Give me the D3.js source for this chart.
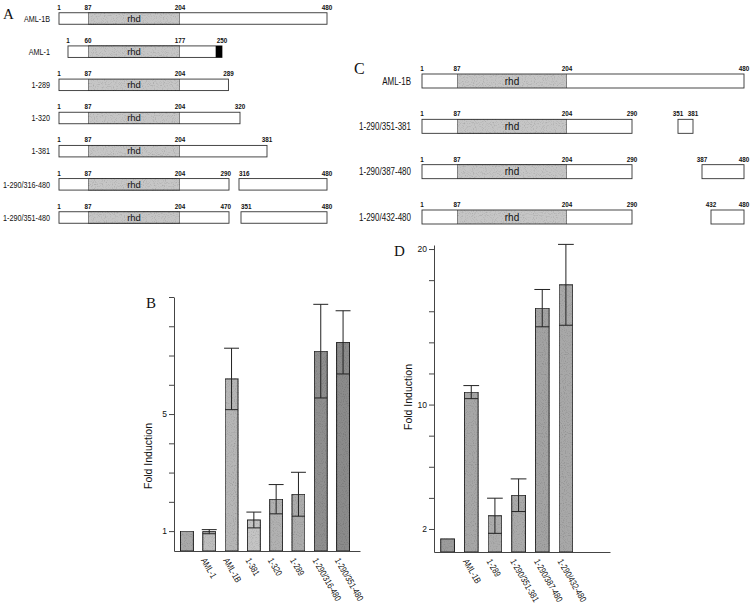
<!DOCTYPE html>
<html>
<head>
<meta charset="utf-8">
<script src="https://cdn.jsdelivr.net/npm/d3@7"></script>
<style>
  body { margin: 0; background: #fff; }
  text { font-family: "Liberation Sans", Arial, sans-serif; fill: #111; }
  .panel-letter { font-family: "Liberation Serif", "Times New Roman", serif; }
</style>
</head>
<body>
<svg id="fig" width="754" height="609"></svg>
<script>
// ---- panel A: constructs ----
const aRows = ["AML-1B", "AML-1", "1-289", "1-320", "1-381", "1-290/316-480", "1-290/351-480"];
const aSegments = [[[1, 480]], [[1, 250]], [[1, 289]], [[1, 320]], [[1, 381]], [[1, 290], [316, 480]], [[1, 290], [351, 480]]];
const aRhd = [[87, 204], [60, 177], [87, 204], [87, 204], [87, 204], [87, 204], [87, 204]];
const aTail = [null, [239, 250], null, null, null, null, null];
const aPos = [[1, 87, 204, 480], [1, 60, 177, 250], [1, 87, 204, 289], [1, 87, 204, 320], [1, 87, 204, 381], [1, 87, 204, 290, 316, 480], [1, 87, 204, 290, 351, 480]];
const aPosText = [["1", "87", "204", "480"], ["1", "60", "177", "250"], ["1", "87", "204", "289"], ["1", "87", "204", "320"], ["1", "87", "204", "381"], ["1", "87", "204", "290", "316", "480"], ["1", "87", "204", "470", "351", "480"]];

// ---- panel C: constructs ----
const cRows = ["AML-1B", "1-290/351-381", "1-290/387-480", "1-290/432-480"];
const cSegments = [[[1, 480]], [[1, 290], [351, 381]], [[1, 290], [387, 480]], [[1, 290], [432, 480]]];
const cRhd = [[87, 204], [87, 204], [87, 204], [87, 204]];
const cPos = [[1, 87, 204, 480], [1, 87, 204, 290, 351, 381], [1, 87, 204, 290, 387, 480], [1, 87, 204, 290, 432, 480]];

// ---- panel B: fold induction ----
const bCats = ["vector", "AML-1", "AML-1B", "1-381", "1-320", "1-289", "1-290/316-480", "1-290/351-480"];
const bLabels = ["", "AML-1", "AML-1B", "1-381", "1-320", "1-289", "1-290/316-480", "1-290/351-480"];
const bMeans = [1.0, 0.98, 6.2, 1.38, 2.09, 2.26, 7.15, 7.45];
const bErrs = [0, 0.07, 1.05, 0.27, 0.5, 0.75, 1.6, 1.08];
const bTicks = [1, 2, 3, 4, 5, 6, 7, 8, 9];
const bTickLabels = [1, 5];

// ---- panel D: fold induction ----
const dCats = ["vector", "AML-1B", "1-289", "1-290/351-381", "1-290/387-480", "1-290/432-480"];
const dLabels = ["", "AML-1B", "1-289", "1-290/351-381", "1-290/387-480", "1-290/432-480"];
const dMeans = [1.36, 10.8, 2.85, 4.17, 16.2, 17.7];
const dErrs = [0, 0.42, 1.13, 1.05, 1.2, 2.6];
const dTicks = [2, 4, 6, 8, 10, 12, 14, 16, 18, 20];
const dTickLabels = [2, 10, 20];

const svg = d3.select("#fig");
svg.append("rect").attr("width", 754).attr("height", 609).attr("fill", "#fff");

// speckled grey like the scanned halftone
const defs = svg.append("defs");
const grain = defs.append("filter").attr("id", "grain").attr("x", 0).attr("y", 0).attr("width", 1).attr("height", 1);
grain.append("feTurbulence").attr("type", "fractalNoise").attr("baseFrequency", 0.9).attr("numOctaves", 1).attr("seed", 3).attr("result", "noise");
grain.append("feColorMatrix").attr("in", "noise").attr("type", "matrix")
    .attr("values", "0 0 0 0 0  0 0 0 0 0  0 0 0 0 0  0 0 0 -0.9 0.45").attr("result", "dots");
grain.append("feComposite").attr("in", "dots").attr("in2", "SourceGraphic").attr("operator", "in").attr("result", "dotsIn");
const gm = grain.append("feMerge");
gm.append("feMergeNode").attr("in", "SourceGraphic");
gm.append("feMergeNode").attr("in", "dotsIn");

// the scan's lettering is much narrower than Liberation Sans
function condense(sel, k) {
    sel.each(function () {
        const len = this.getComputedTextLength();
        if (len > 0) d3.select(this).attr("textLength", len * k).attr("lengthAdjust", "spacingAndGlyphs");
    });
}

function letter(x, y, t, size) {
    svg.append("text").attr("class", "panel-letter")
        .attr("x", x).attr("y", y).attr("font-size", size).text(t);
}

// draws one construct map; rows share a piecewise aa -> px scale
function drawMaps(g, rows, segs, rhd, tail, pos, posText, xFor, y, barH, opts) {
    rows.forEach((name, i) => {
        const x = xFor(i);
        const cy = y(name);
        const top = cy - barH / 2;
        const row = g.append("g");
        const split = segs[i].length > 1;

        row.selectAll("rect.seg")
            .data(segs[i])
            .join("rect")
            .attr("class", "seg")
            .attr("x", d => x(d[0]))
            .attr("y", top)
            .attr("width", d => x(d[1]) - x(d[0]))
            .attr("height", barH)
            .attr("fill", "#fff")
            .attr("stroke", "#333")
            .attr("stroke-width", 0.9);

        row.append("rect")
            .attr("x", x(rhd[i][0]))
            .attr("y", top)
            .attr("width", x(rhd[i][1]) - x(rhd[i][0]))
            .attr("height", barH)
            .attr("fill", "#c6c6c6")
            .attr("stroke", "#333")
            .attr("stroke-width", 0.9)
            .attr("filter", "url(#grain)");

        row.append("text")
            .attr("x", (x(rhd[i][0]) + x(rhd[i][1])) / 2)
            .attr("y", cy + opts.rhdSize * 0.35)
            .attr("text-anchor", "middle")
            .attr("font-size", opts.rhdSize)
            .text("rhd");

        if (tail && tail[i]) {
            row.append("rect")
                .attr("x", x(tail[i][0]))
                .attr("y", top)
                .attr("width", x(tail[i][1]) - x(tail[i][0]))
                .attr("height", barH)
                .attr("fill", "#000");
        }

        // in the tight panel A the labels at the gap hug their own fragment
        const anchor = (d, j) => {
            if (!(opts.hugGap && split)) return "middle";
            if (d === segs[i][0][1]) return "end";
            if (d === segs[i][1][0]) return "start";
            return "middle";
        };

        row.selectAll("text.pos")
            .data(pos[i])
            .join("text")
            .attr("class", "pos")
            .attr("x", (d, j) => x(d) + (anchor(d, j) === "end" ? 2 : 0))
            .attr("y", top - 3)
            .attr("text-anchor", anchor)
            .attr("font-size", 6.3)
            .attr("font-weight", "bold")
            .text((d, j) => posText ? posText[i][j] : d);

        row.append("text")
            .attr("x", opts.labelX)
            .attr("y", cy + opts.labelSize * 0.35)
            .attr("text-anchor", "end")
            .attr("font-size", opts.labelSize)
            .text(name)
            .call(condense, 0.76);
    });
}

// ---- A ----
letter(3, 19, "A", 15);
const xA = d3.scaleLinear()
    .domain([1, 87, 204, 290, 316, 320, 351, 381, 480])
    .range([59, 88, 180, 229, 239, 240, 241, 267, 327]);
const xAML1 = d3.scaleLinear()
    .domain([1, 60, 177, 250])
    .range([68, 88, 180, 222]);
const yA = d3.scalePoint().domain(aRows).range([18.5, 217.5]);
drawMaps(svg.append("g"), aRows, aSegments, aRhd, aTail, aPos, aPosText,
    i => aRows[i] === "AML-1" ? xAML1 : xA, yA, 11.5,
    { labelX: 50, labelSize: 9.5, rhdSize: 9.5, hugGap: true });

// ---- C ----
letter(354, 74, "C", 16);
const xC = d3.scaleLinear()
    .domain([1, 87, 204, 290, 351, 381, 387, 432, 480])
    .range([422, 457, 567, 632, 678, 693, 702, 711, 744]);
const yC = d3.scalePoint().domain(cRows).range([81, 217]);
drawMaps(svg.append("g"), cRows, cSegments, cRhd, null, cPos, null,
    () => xC, yC, 14,
    { labelX: 411, labelSize: 10.5, rhdSize: 10, hugGap: false });

// ---- bar charts ----
function drawBars(box, cats, labels, means, errs, ticks, tickLabels, domain, colors, letterPos, titleY) {
    const g = svg.append("g");
    const x = d3.scaleBand()
        .domain(cats)
        .range([box.left + 2, box.bandEnd])
        .paddingInner(0.42)
        .paddingOuter(0.2);
    const y = d3.scaleLinear().domain(domain).range([box.bottom, box.top]);
    const color = d3.scaleOrdinal().domain(cats).range(colors);

    g.selectAll("rect.bar")
        .data(cats)
        .join("rect")
        .attr("class", "bar")
        .attr("x", d => x(d))
        .attr("y", (d, i) => y(means[i]))
        .attr("width", x.bandwidth())
        .attr("height", (d, i) => y(domain[0]) - y(means[i]))
        .attr("fill", d => color(d))
        .attr("stroke", "#222")
        .attr("stroke-width", 1)
        .attr("filter", "url(#grain)");

    const eb = g.selectAll("g.err")
        .data(cats.filter((d, i) => errs[i] > 0))
        .join("g")
        .attr("class", "err")
        .attr("stroke", "#222")
        .attr("stroke-width", 1);
    const idx = d => cats.indexOf(d);
    eb.append("line")
        .attr("x1", d => x(d) + x.bandwidth() / 2)
        .attr("x2", d => x(d) + x.bandwidth() / 2)
        .attr("y1", d => y(means[idx(d)] - errs[idx(d)]))
        .attr("y2", d => y(means[idx(d)] + errs[idx(d)]));
    eb.append("line")
        .attr("x1", d => x(d) - 1)
        .attr("x2", d => x(d) + x.bandwidth() + 1)
        .attr("y1", d => y(means[idx(d)] + errs[idx(d)]))
        .attr("y2", d => y(means[idx(d)] + errs[idx(d)]));
    eb.append("line")
        .attr("x1", d => x(d))
        .attr("x2", d => x(d) + x.bandwidth())
        .attr("y1", d => y(means[idx(d)] - errs[idx(d)]))
        .attr("y2", d => y(means[idx(d)] - errs[idx(d)]));

    const yAxis = g.append("g")
        .attr("transform", `translate(${box.left},0)`)
        .call(d3.axisLeft(y)
            .tickValues(ticks)
            .tickSize(5)
            .tickSizeOuter(0)
            .tickFormat(d => tickLabels.includes(d) ? d : ""));
    yAxis.select(".domain").attr("stroke", "#444");
    yAxis.selectAll(".tick line").attr("stroke", "#444");
    yAxis.selectAll(".tick text")
        .attr("font-family", "Liberation Sans, Arial, sans-serif")
        .attr("font-size", 8.5)
        .attr("fill", "#222")
        .attr("x", -7);

    const xAxis = g.append("g")
        .attr("transform", `translate(0,${box.bottom})`)
        .call(d3.axisBottom(d3.scaleLinear().domain([0, 1]).range([box.left, box.right]))
            .ticks(0).tickSizeOuter(0));
    xAxis.select(".domain").attr("stroke", "#444");

    // narrow lettering done with a horizontal squeeze in the rotated frame
    g.selectAll("text.xlab")
        .data(cats)
        .join("text")
        .attr("class", "xlab")
        .attr("transform", d => `translate(${x(d) + x.bandwidth() / 2 - 3},${box.bottom + 6}) rotate(60) scale(0.8,1)`)
        .attr("font-size", 9.2)
        .attr("dy", "0.7em")
        .text((d, i) => labels[i]);

    g.append("text")
        .attr("transform", `translate(${box.left - 22},${titleY}) rotate(-90)`)
        .attr("text-anchor", "middle")
        .attr("font-size", 10.5)
        .text("Fold Induction");

    letter(letterPos[0], letterPos[1], letterPos[2], 15);
}

drawBars({ left: 174, right: 360, top: 297, bottom: 551, bandEnd: 354 },
    bCats, bLabels, bMeans, bErrs, bTicks, bTickLabels, [0.32, 9],
    ["#a9a9a9", "#bebebe", "#b6b6b6", "#c4c4c4", "#b1b1b1", "#acacac", "#8f8f8f", "#8b8b8b"],
    [146, 308, "B"], 456);

drawBars({ left: 434, right: 610, top: 245, bottom: 552, bandEnd: 577.5 },
    dCats, dLabels, dMeans, dErrs, dTicks, dTickLabels, [0.52, 20.26],
    ["#9c9c9c", "#a7a7a7", "#acacac", "#aaaaaa", "#a3a3a3", "#a8a8a8"],
    [394, 256, "D"], 397);
</script>
</body>
</html>
